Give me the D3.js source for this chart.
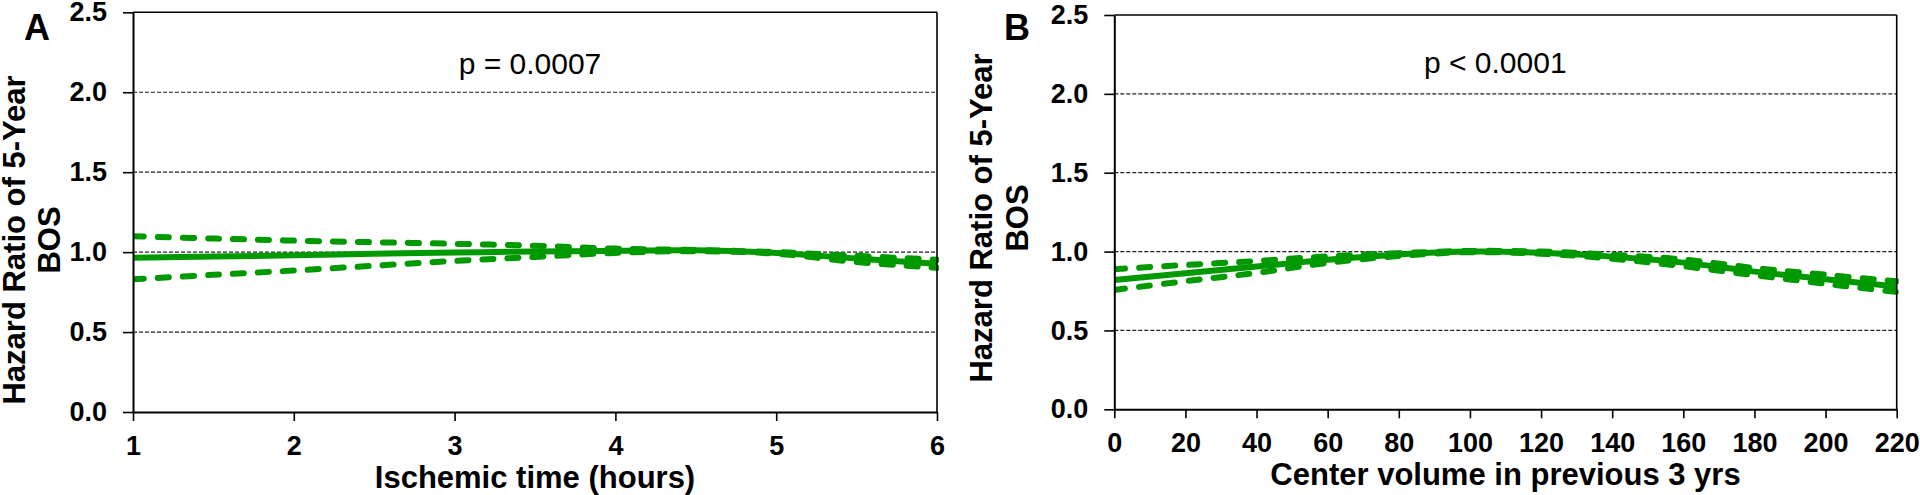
<!DOCTYPE html>
<html>
<head>
<meta charset="utf-8">
<script src="https://cdnjs.cloudflare.com/ajax/libs/d3/7.8.5/d3.min.js"></script>
<style>
  body { margin: 0; background: #fff; }
  svg { display: block; font-family: Arial, "Liberation Sans", sans-serif; }
</style>
</head>
<body>
<div id="canvas"></div>
<script>
// shared y axis
const yTicks = [0, 0.5, 1.0, 1.5, 2.0, 2.5];
const gridTicks = [0.5, 1.0, 1.5, 2.0];

// panel A - ischemic time
const hoursTicks = [1, 2, 3, 4, 5, 6];
const hours   = [1, 1.5, 2, 2.5, 3, 3.5, 4, 4.5, 5, 5.5, 6];
const hoursHR = [0.965, 0.972, 0.98, 0.99, 0.997, 1.004, 1.008, 1.011, 0.995, 0.96, 0.927];
const hoursUp = [1.10, 1.085, 1.072, 1.062, 1.052, 1.04, 1.022, 1.013, 1.0, 0.977, 0.952];
const hoursLo = [0.83, 0.858, 0.885, 0.915, 0.945, 0.97, 0.995, 1.006, 0.99, 0.938, 0.902];

// panel B - center volume
const volumeTicks = [0, 20, 40, 60, 80, 100, 120, 140, 160, 180, 200, 220];
const volume   = [0, 20, 40, 60, 80, 100, 120, 140, 160, 180, 200, 220];
const volumeHR = [0.82, 0.862, 0.905, 0.948, 0.982, 1.0, 0.993, 0.968, 0.93, 0.873, 0.825, 0.778];
const volumeUp = [0.888, 0.915, 0.94, 0.97, 0.99, 1.004, 1.0, 0.98, 0.95, 0.896, 0.853, 0.812];
const volumeLo = [0.757, 0.812, 0.865, 0.928, 0.972, 0.996, 0.986, 0.955, 0.907, 0.85, 0.796, 0.744];

const green = '#009a00';

const svg = d3.select('#canvas')
  .append('svg')
  .attr('width', 1920)
  .attr('height', 495);

const drawPanel = (p) => {
  const width = p.right - p.left;
  const height = p.bottom - p.top;

  const graph = svg.append('g')
    .attr('transform', `translate(${p.left}, ${p.top})`);

  // scales
  const x = d3.scaleLinear().domain(p.xDomain).range([0, width]);
  const y = d3.scaleLinear().domain([0, 2.5]).range([height, 0]);

  // dashed gridlines
  graph.append('g')
    .selectAll('line')
    .data(gridTicks)
    .enter()
    .append('line')
      .attr('x1', 0)
      .attr('x2', width)
      .attr('y1', d => y(d))
      .attr('y2', d => y(d))
      .attr('stroke', '#222')
      .attr('stroke-width', 1.2)
      .attr('stroke-dasharray', '4,2');

  // clip for the curves
  const clipId = 'clip' + p.letter;
  graph.append('clipPath')
    .attr('id', clipId)
    .append('rect')
      .attr('x', 0)
      .attr('y', 0)
      .attr('width', width + 2)
      .attr('height', height);

  const curves = graph.append('g').attr('clip-path', `url(#${clipId})`);

  const makeLine = (vals) => d3.line()
    .curve(d3.curveCatmullRom)
    .x((d, i) => x(p.xs[i]))
    .y((d, i) => y(vals[i]));

  curves.append('path')
    .datum(p.hr)
    .attr('fill', 'none')
    .attr('stroke', green)
    .attr('stroke-width', 6)
    .attr('d', makeLine(p.hr));

  [p.up, p.lo].forEach(vals => {
    curves.append('path')
      .datum(vals)
      .attr('fill', 'none')
      .attr('stroke', green)
      .attr('stroke-width', 6)
      .attr('stroke-linecap', 'round')
      .attr('stroke-dasharray', '11,14')
      .attr('d', makeLine(vals));
  });

  // axes
  const xAxis = d3.axisBottom(x)
    .tickValues(p.xTicks)
    .tickSize(9)
    .tickSizeOuter(0)
    .tickPadding(15)
    .tickFormat(d3.format('d'));

  const yAxis = d3.axisLeft(y)
    .tickValues(yTicks)
    .tickSize(10)
    .tickSizeOuter(0)
    .tickPadding(16)
    .tickFormat(d3.format('.1f'));

  const xAxisGroup = graph.append('g')
    .attr('transform', `translate(0, ${height})`)
    .call(xAxis);

  const yAxisGroup = graph.append('g')
    .call(yAxis);

  [xAxisGroup, yAxisGroup].forEach(g => {
    g.select('.domain').attr('stroke', '#000').attr('stroke-width', 2);
    g.selectAll('.tick line').attr('stroke', '#000').attr('stroke-width', 1.6);
    g.selectAll('.tick text')
      .attr('fill', '#000')
      .style('font-size', '27px')
      .style('font-weight', 'bold')
      .style('font-family', 'Arial, "Liberation Sans", sans-serif');
  });

  // top and right frame
  graph.append('line')
    .attr('x1', 0).attr('x2', width)
    .attr('y1', 0).attr('y2', 0)
    .attr('stroke', '#000').attr('stroke-width', 1.6);
  graph.append('line')
    .attr('x1', width).attr('x2', width)
    .attr('y1', 0).attr('y2', height)
    .attr('stroke', '#000').attr('stroke-width', 1.6);

  // p value
  graph.append('text')
    .attr('x', p.pX)
    .attr('y', p.pY)
    .attr('text-anchor', 'middle')
    .style('font-size', '30px')
    .text(p.pText);

  // x title
  graph.append('text')
    .attr('x', width / 2)
    .attr('y', height + 76)
    .attr('text-anchor', 'middle')
    .style('font-size', '31px')
    .style('font-weight', 'bold')
    .text(p.xLabel);

  // y title (two lines, rotated)
  const yTitle = svg.append('text')
    .attr('transform', `translate(${p.yTitleX}, ${p.yTitleY}) rotate(-90)`)
    .attr('text-anchor', 'middle')
    .style('font-size', '31px')
    .style('font-weight', 'bold');
  yTitle.append('tspan').attr('x', 0).attr('y', 0).text('Hazard Ratio of 5-Year');
  yTitle.append('tspan').attr('x', 0).attr('y', 35.5).text('BOS');

  // panel letter
  svg.append('text')
    .attr('x', p.letterX)
    .attr('y', 40)
    .style('font-size', '36px')
    .style('font-weight', 'bold')
    .text(p.letter);
};

drawPanel({
  letter: 'A', letterX: 24,
  left: 133, right: 937, top: 12.3, bottom: 412,
  xDomain: [1, 6], xTicks: hoursTicks,
  xs: hours, hr: hoursHR, up: hoursUp, lo: hoursLo,
  xLabel: 'Ischemic time (hours)',
  pText: 'p = 0.0007', pX: 397, pY: 62,
  yTitleX: 24.5, yTitleY: 240
});

drawPanel({
  letter: 'B', letterX: 1004,
  left: 1114.3, right: 1896.7, top: 15, bottom: 409.3,
  xDomain: [0, 220], xTicks: volumeTicks,
  xs: volume, hr: volumeHR, up: volumeUp, lo: volumeLo,
  xLabel: 'Center volume in previous 3 yrs',
  pText: 'p < 0.0001', pX: 381, pY: 58,
  yTitleX: 992, yTitleY: 218
});
</script>
</body>
</html>
